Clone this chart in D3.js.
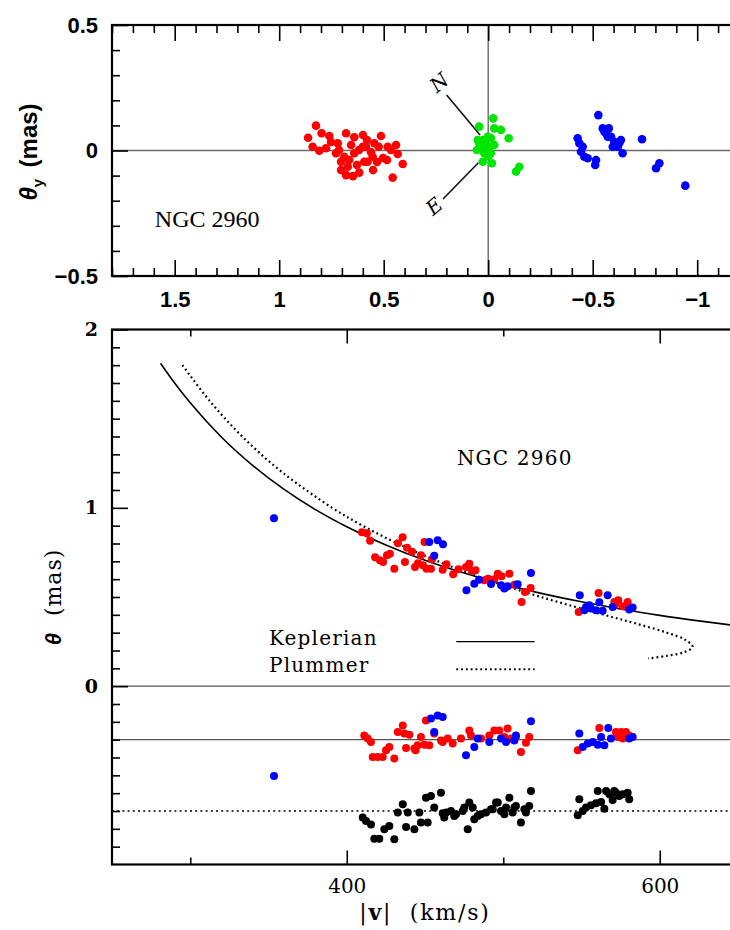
<!DOCTYPE html>
<html>
<head>
<meta charset="utf-8">
<script src="https://cdn.jsdelivr.net/npm/d3@7"></script>
<style>
  body { margin: 0; background: #fff; }
  svg { display: block; }
</style>
</head>
<body>
<svg id="chart" width="730" height="930"></svg>
<script>
// ---------- Upper panel: sky positions (theta_x, theta_y) in mas ----------
const topRed = [
  [0.824,0.099],[0.862,0.051],[0.797,0.069],[0.760,0.058],[0.840,0.015],[0.808,-0.001],
  [0.776,0.009],[0.720,0.029],[0.680,0.069],[0.641,0.053],[0.728,-0.011],[0.689,-0.025],
  [0.665,-0.038],[0.672,-0.065],[0.680,-0.098],[0.617,-0.088],[0.641,-0.011],[0.600,0.015],
  [0.593,-0.045],[0.704,-0.045],[0.585,0.015],[0.545,0.029],[0.513,0.058],[0.524,0.015],
  [0.481,0.015],[0.465,0.002],[0.433,-0.014],[0.409,-0.054],[0.457,-0.108],[0.553,-0.025],
  [0.577,-0.045],[0.656,0.022],[0.618,0.002],[0.561,-0.006],[0.503,-0.030],[0.714,0.002],
  [0.752,0.034],[0.580,0.042],[0.532,-0.046],[0.628,-0.058],[0.599,0.062],[0.484,-0.038],
  [0.441,0.022],[0.704,-0.078],[0.647,-0.102],[0.551,-0.078]
];
const topGreen = [
  [0.043,0.095],[-0.024,0.128],[-0.029,0.088],[-0.061,0.082],[-0.098,0.049],[0.050,0.042],
  [0.026,0.042],[0.011,0.029],[0.034,0.009],[-0.005,0.015],[-0.029,0.022],[0.019,-0.011],
  [-0.013,-0.011],[0.026,-0.045],[-0.018,-0.051],[-0.149,-0.065],[-0.133,-0.084],[0.002,0.055],
  [0.043,0.029],[0.025,0.002],[-0.001,-0.022],[0.054,0.002],[-0.013,0.050]
];
const topBlue = [
  [-0.527,0.141],[-0.548,0.088],[-0.577,0.088],[-0.564,0.069],[-0.588,0.055],[-0.603,0.035],
  [-0.635,0.042],[-0.620,0.015],[-0.643,-0.011],[-0.596,0.015],[-0.736,0.045],[-0.428,0.049],
  [-0.436,0.029],[-0.452,0.015],[-0.444,-0.005],[-0.460,-0.025],[-0.476,-0.031],[-0.512,-0.058],
  [-0.516,-0.038],[-0.819,-0.051],[-0.803,-0.071],[-0.943,-0.140],[-0.556,0.075],[-0.572,0.055],
  [-0.627,0.029]
];
const topXTicks = [1.5, 1, 0.5, 0, -0.5, -1];
const topYTicks = [0.5, 0, -0.5];

// ---------- Lower panel: radius vs |v| ----------
const redPoints = [
  [409.7,0.863],[412.9,0.857],[414.9,0.815],[418.1,0.723],[421.2,0.706],[423.2,0.696],
  [425.7,0.734],[427.6,0.743],[430.4,0.659],[432.7,0.801],[435.7,0.835],[437.2,0.696],
  [438.5,0.776],[441.7,0.754],[443.6,0.668],[445.5,0.689],[447.4,0.734],[449.7,0.808],
  [448.7,0.678],[451.0,0.659],[453.8,0.659],[454.5,0.711],[461.3,0.653],[463.7,0.683],
  [468.0,0.627],[471.4,0.655],[476.2,0.668],[478.3,0.687],[480.0,0.647],[482.3,0.650],
  [487.9,0.594],[490.3,0.603],[494.3,0.599],[496.5,0.631],[498.9,0.616],[503.9,0.630],
  [500.8,0.552],[507.1,0.569],[511.7,0.472],[513.9,0.528],[517.5,0.551],[548.2,0.416],
  [560.9,0.523],[571.0,0.472],[573.5,0.482],[576.5,0.448],[579.5,0.472],[571.4,0.454]
];
const bluePoints = [
  [353.5,0.941],[452.7,0.808],[458.1,0.818],[461.5,0.796],[455.9,0.731],[476.5,0.538],
  [481.5,0.575],[484.5,0.597],[492.2,0.573],[498.6,0.566],[500.7,0.547],[502.8,0.560],
  [509.2,0.571],[517.7,0.635],[548.9,0.510],[566.7,0.510],[552.9,0.444],[556.1,0.435],
  [559.3,0.426],[561.4,0.471],[563.5,0.423],[569.9,0.444],[580.5,0.430],[582.7,0.441],
  [551.8,0.426],[555.0,0.454]
];
// Keplerian and Plummer model curves, [|v|, theta]
const keplerCurve = [
  [281,1.811],[290,1.700],[300,1.589],[320,1.396],[340,1.237],[360,1.103],[380,0.990],
  [400,0.894],[425,0.792],[450,0.706],[475,0.634],[500,0.572],[525,0.519],[550,0.473],
  [575,0.433],[600,0.397],[625,0.366],[650,0.338]
];
const plummerCurve = [
  [295.0,1.80],[312.4,1.60],[333.2,1.40],[358.7,1.20],[390.7,1.00],[410.1,0.90],[432.4,0.80],
  [458.3,0.70],[488.5,0.60],[524.1,0.50],[564.4,0.40],[585.3,0.35],[604.6,0.30],[616.3,0.26],
  [621.0,0.22],[615.3,0.19],[604.6,0.17],[592.6,0.155]
];
// Residuals from the Keplerian fit (shown offset by keplerOffset)
const keplerOffset = -0.3;
const redResidKepler = [
  [411.2,0.024],[413.4,0.006],[415.5,-0.013],[416.6,-0.097],[419.8,-0.097],[423.0,-0.097],
  [425.1,-0.060],[427.2,-0.041],[430.4,-0.106],[432.6,0.043],[435.8,0.080],[436.8,0.034],
  [440.0,0.028],[437.9,-0.047],[443.2,-0.050],[445.3,-0.032],[447.4,0.015],[450.6,0.108],
  [449.6,-0.028],[452.7,-0.032],[455.9,0.034],[461.3,-0.013],[464.5,0.006],[467.7,-0.022],
  [473.0,0.006],[478.3,0.052],[479.4,0.024],[485.8,0.006],[491.1,0.024],[494.3,0.052],
  [497.5,0.052],[502.8,0.062],[500.7,0.015],[505.0,0.006],[508.1,0.015],[511.3,-0.069],
  [514.5,-0.017],[516.6,0.015],[460.2,-0.004],[444.0,-0.060],[547.6,-0.060],[561.4,0.065],
  [572.0,0.043],[575.2,0.043],[578.4,0.043],[573.1,0.015],[580.5,0.024],[576.3,0.006]
];
const blueResidKepler = [
  [353.5,-0.204],[453.8,0.118],[458.1,0.136],[461.3,0.127],[455.9,0.043],[476.2,-0.088],
  [481.5,-0.041],[483.7,0.006],[491.1,-0.013],[498.6,0.006],[501.8,-0.013],[508.1,0.024],
  [507.1,-0.004],[517.7,0.103],[548.6,0.034],[550.8,-0.041],[554.0,-0.022],[557.2,-0.013],
  [560.4,-0.028],[562.5,0.015],[564.6,-0.032],[567.1,0.065],[568.8,0.006],[580.5,0.006],
  [582.7,0.015]
];
// Residuals from the Plummer fit (shown offset by plummerOffset)
const plummerOffset = -0.7;
const residPlummer = [
  [410.2,-0.037],[412.3,-0.056],[415.5,-0.075],[417.6,-0.155],[420.8,-0.155],[424.0,-0.103],
  [427.2,-0.084],[430.4,-0.159],[432.6,-0.009],[435.8,0.038],[439.0,-0.009],[437.9,-0.090],
  [443.2,-0.103],[446.4,-0.009],[447.4,-0.065],[450.6,0.075],[453.8,0.084],[455.9,0.019],
  [451.7,-0.065],[460.2,0.103],[461.3,-0.013],[462.3,-0.037],[466.6,0.000],[469.8,-0.018],
  [474.1,0.000],[478.3,0.047],[480.5,0.019],[477.3,-0.103],[481.5,-0.046],[485.8,-0.018],
  [489.0,-0.009],[492.2,0.010],[495.4,0.047],[498.6,0.000],[501.8,0.019],[503.9,0.075],
  [506.0,-0.009],[508.1,0.028],[511.3,-0.065],[514.5,-0.009],[517.7,0.112],[516.6,0.028],
  [463.6,-0.009],[468.7,-0.028],[475.1,0.019],[483.7,-0.028],[493.3,0.010],[496.5,0.047],
  [500.7,-0.018],[507.1,0.019],[513.5,0.010],[547.6,-0.024],[548.6,0.066],[550.8,0.000],
  [552.9,0.019],[556.1,0.032],[559.3,0.043],[560.4,0.112],[562.5,0.050],[564.6,0.013],
  [565.7,0.112],[567.8,0.094],[569.9,0.062],[570.9,0.112],[572.0,0.103],[574.1,0.084],
  [576.3,0.094],[579.5,0.103],[580.5,0.066]
];
const botXMajor = [400, 600];
const botXMinor = [300, 500];
const botYTicks = [0, 1, 2];

// ---------- Drawing ----------
const svg = d3.select("#chart");
const fmt = d3.format("~g");
const SANS = "'Liberation Sans', Arial, sans-serif";
const SERIF = "'DejaVu Serif', serif";

const xTop = d3.scaleLinear().domain([1.8, -1.2]).range([112, 739]);
const yTop = d3.scaleLinear().domain([-0.5, 0.5]).range([276, 25]);
const xBot = d3.scaleLinear().domain([250, 650]).range([112, 738]);
const yBot = d3.scaleLinear().domain([-1, 2]).range([864.5, 329.5]);

function axis(gen, values, size, labels, pad, transform, font, fsize, weight) {
  const a = gen.tickValues(values).tickSizeInner(-size).tickSizeOuter(0).tickPadding(pad)
    .tickFormat(labels ? fmt : () => "");
  const g = svg.append("g").attr("transform", transform).call(a);
  g.select(".domain").remove();
  g.selectAll(".tick line").attr("stroke", "#000").attr("stroke-width", 1.6);
  g.attr("font-family", font).attr("font-size", fsize).attr("font-weight", weight || "normal");
  g.selectAll(".tick text").attr("fill", "#000");
  return g;
}
const isMult = (v, step) => Math.abs(v / step - Math.round(v / step)) < 1e-9;

// --- upper panel ---
const topMinorX = d3.range(-11, 19).map(i => i / 10).filter(v => !isMult(v, 0.5));
const topMinorY = d3.range(-4, 5).map(i => i / 10).filter(v => !isMult(v, 0.5));

// reference cross through the origin
svg.append("line").attr("x1", xTop.range()[0]).attr("x2", xTop.range()[1])
  .attr("y1", yTop(0)).attr("y2", yTop(0)).attr("stroke", "#6a6a6a").attr("stroke-width", 1.4);
svg.append("line").attr("x1", xTop(0)).attr("x2", xTop(0))
  .attr("y1", yTop(0.5)).attr("y2", yTop(-0.5)).attr("stroke", "#6a6a6a").attr("stroke-width", 1.4);

axis(d3.axisBottom(xTop), topXTicks, 16, true, 15, `translate(0,${yTop(-0.5)})`, SANS, 22, "bold");
axis(d3.axisBottom(xTop), topMinorX, 8, false, 0, `translate(0,${yTop(-0.5)})`, SANS, 22);
axis(d3.axisTop(xTop), topXTicks, 16, false, 0, `translate(0,${yTop(0.5)})`, SANS, 22);
axis(d3.axisTop(xTop), topMinorX, 8, false, 0, `translate(0,${yTop(0.5)})`, SANS, 22);
axis(d3.axisLeft(yTop), topYTicks, 16, true, 14, `translate(${xTop(1.8)},0)`, SANS, 22, "bold");
axis(d3.axisLeft(yTop), topMinorY, 8, false, 0, `translate(${xTop(1.8)},0)`, SANS, 22);

svg.append("rect").attr("x", xTop(1.8)).attr("y", yTop(0.5))
  .attr("width", xTop(-1.2) - xTop(1.8)).attr("height", yTop(-0.5) - yTop(0.5))
  .attr("fill", "none").attr("stroke", "#000").attr("stroke-width", 2.2);

// compass
const compass = svg.append("g").attr("stroke", "#111").attr("stroke-width", 1.6);
compass.append("line").attr("x1", xTop(0.199)).attr("y1", yTop(0.221))
  .attr("x2", xTop(0.039)).attr("y2", yTop(0.062));
compass.append("line").attr("x1", xTop(0.047)).attr("y1", yTop(-0.049))
  .attr("x2", xTop(0.216)).attr("y2", yTop(-0.193));
[["N", 0.235, 0.271], ["E", 0.259, -0.222]].forEach(([t, gx, gy]) => {
  svg.append("text").attr("transform", `translate(${xTop(gx)},${yTop(gy)}) rotate(-40)`)
    .attr("text-anchor", "middle").attr("dy", "0.35em")
    .attr("font-family", SERIF).attr("font-size", 20).attr("font-style", "italic")
    .text(t);
});

const dotsTop = (data, color) => svg.append("g").selectAll("circle").data(data).join("circle")
  .attr("cx", d => xTop(d[0])).attr("cy", d => yTop(d[1])).attr("r", 4.3).attr("fill", color);
dotsTop(topRed, "#ff0000");
dotsTop(topGreen, "#00e600");
dotsTop(topBlue, "#0000ff");

svg.append("text").attr("x", xTop(1.595)).attr("y", yTop(-0.27)).attr("dy", "0.35em")
  .attr("font-family", "'Liberation Serif', serif").attr("font-size", 24).text("NGC 2960");

const yl1 = svg.append("text").attr("transform", `translate(37,152) rotate(-90)`)
  .attr("text-anchor", "middle").attr("font-family", SANS).attr("font-size", 24).attr("font-weight", "bold");
yl1.append("tspan").attr("font-style", "italic").text("θ");
yl1.append("tspan").attr("font-size", 15).attr("dy", 6).text("y");
yl1.append("tspan").attr("dy", -6).text("\u2009 (mas)");

// --- lower panel ---
const botMinorY = d3.range(-9, 20).map(i => i / 10).filter(v => !isMult(v, 1));

svg.append("clipPath").attr("id", "botClip").append("rect")
  .attr("x", xBot(250)).attr("y", yBot(2)).attr("width", xBot(650) - xBot(250)).attr("height", yBot(-1) - yBot(2));

const guide = (val, dash, color) => svg.append("line")
  .attr("x1", xBot(250)).attr("x2", xBot(650)).attr("y1", yBot(val)).attr("y2", yBot(val))
  .attr("stroke", color).attr("stroke-width", dash ? 1.7 : 1.3).attr("stroke-dasharray", dash || null);
guide(0, null, "#555");
guide(keplerOffset, null, "#555");
guide(plummerOffset, "2,3.2", "#000");

axis(d3.axisBottom(xBot), botXMajor, 14, true, 14, `translate(0,${yBot(-1)})`, SERIF, 20);
axis(d3.axisBottom(xBot), botXMinor, 7, false, 0, `translate(0,${yBot(-1)})`, SERIF, 20);
axis(d3.axisTop(xBot), botXMajor, 14, false, 0, `translate(0,${yBot(2)})`, SERIF, 20);
axis(d3.axisTop(xBot), botXMinor, 7, false, 0, `translate(0,${yBot(2)})`, SERIF, 20);
axis(d3.axisLeft(yBot), botYTicks, 16, true, 14, `translate(${xBot(250)},0)`, SERIF, 19, "bold");
axis(d3.axisLeft(yBot), botMinorY, 8, false, 0, `translate(${xBot(250)},0)`, SERIF, 19);

svg.append("rect").attr("x", xBot(250)).attr("y", yBot(2))
  .attr("width", xBot(650) - xBot(250)).attr("height", yBot(-1) - yBot(2))
  .attr("fill", "none").attr("stroke", "#000").attr("stroke-width", 2.2);

const curveG = svg.append("g").attr("clip-path", "url(#botClip)");
curveG.append("path").datum(keplerCurve)
  .attr("d", d3.line().x(d => xBot(d[0])).y(d => yBot(d[1])).curve(d3.curveMonotoneX))
  .attr("fill", "none").attr("stroke", "#000").attr("stroke-width", 1.6);
curveG.append("path").datum(plummerCurve)
  .attr("d", d3.line().x(d => xBot(d[0])).y(d => yBot(d[1])).curve(d3.curveCatmullRom.alpha(0.5)))
  .attr("fill", "none").attr("stroke", "#000").attr("stroke-width", 2.2).attr("stroke-dasharray", "1.8,3");

const dotsBot = (data, color, off) => svg.append("g").selectAll("circle").data(data).join("circle")
  .attr("cx", d => xBot(d[0])).attr("cy", d => yBot(d[1] + off)).attr("r", 4).attr("fill", color);
dotsBot(redPoints, "#ff0000", 0);
dotsBot(bluePoints, "#0000ff", 0);
dotsBot(redResidKepler, "#ff0000", keplerOffset);
dotsBot(blueResidKepler, "#0000ff", keplerOffset);
dotsBot(residPlummer, "#000", plummerOffset);

// legend
const legend = [["Keplerian", 0.27, 0.25, null], ["Plummer", 0.12, 0.095, "1.8,3"]];
legend.forEach(([name, ty, ly, dash]) => {
  svg.append("text").attr("x", xBot(350.3)).attr("y", yBot(ty)).attr("dy", "0.35em")
    .attr("font-family", SERIF).attr("font-size", 20).attr("letter-spacing", 1.2).text(name);
  svg.append("line").attr("x1", xBot(470)).attr("x2", xBot(520)).attr("y1", yBot(ly)).attr("y2", yBot(ly))
    .attr("stroke", "#000").attr("stroke-width", dash ? 2.2 : 1.4).attr("stroke-dasharray", dash);
});

svg.append("text").attr("x", xBot(470.4)).attr("y", yBot(1.28)).attr("dy", "0.35em")
  .attr("font-family", SERIF).attr("font-size", 20).attr("letter-spacing", 1.2).text("NGC 2960");

const xl = svg.append("text").attr("x", 425).attr("y", 912).attr("dy", "0.35em")
  .attr("text-anchor", "middle").attr("font-family", SERIF).attr("font-size", 22).attr("letter-spacing", 1.8);
xl.append("tspan").text("|");
xl.append("tspan").attr("font-weight", "bold").text("v");
xl.append("tspan").text("|\u00a0\u00a0(km/s)");

const yl2 = svg.append("text").attr("transform", `translate(61,597) rotate(-90)`)
  .attr("text-anchor", "middle").attr("font-family", SERIF).attr("font-size", 22).attr("letter-spacing", 1);
yl2.append("tspan").attr("font-style", "italic").attr("font-weight", "bold")
  .attr("font-family", SANS).text("θ");
yl2.append("tspan").text("\u00a0\u00a0(mas)");
</script>
</body>
</html>
